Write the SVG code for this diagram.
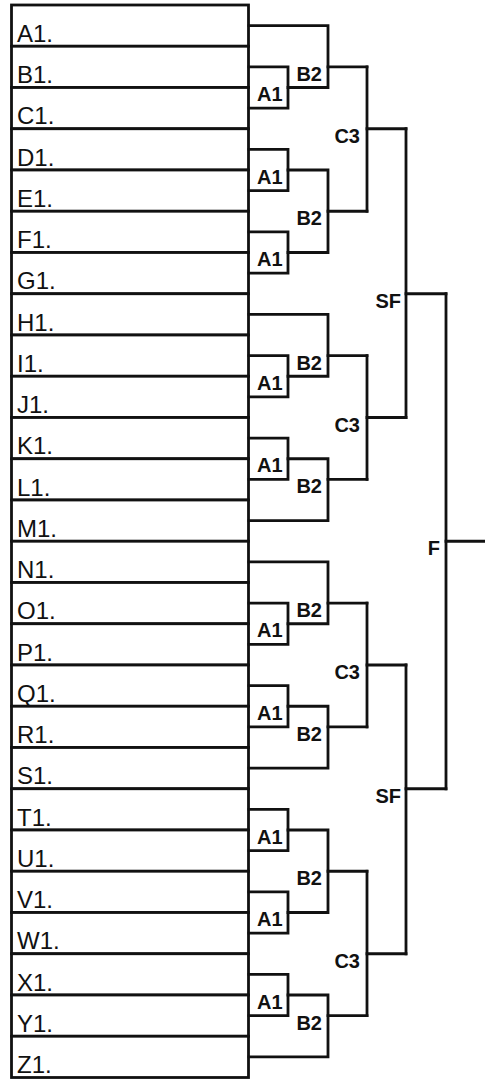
<svg xmlns="http://www.w3.org/2000/svg" width="485" height="1080" viewBox="0 0 485 1080">
<style>
.row{fill:#fff;stroke:#111;stroke-width:2.8}
.rt{font-family:"Liberation Sans",Arial,sans-serif;font-size:24px;fill:#111}
.ml{font-family:"Liberation Sans",Arial,sans-serif;font-size:20px;font-weight:bold;fill:#111}
.e{text-anchor:end}
.c{fill:none;stroke:#111;stroke-width:2.8;stroke-linejoin:miter;stroke-linecap:square}
</style>
<rect width="485" height="1080" fill="#fff"/>
<g id="entries">
<g id="row-A1"><rect class="row" x="11.5" y="5" width="237" height="41.25"/><text class="rt" x="17" y="41.75">A1.</text></g>
<g id="row-B1"><rect class="row" x="11.5" y="46.25" width="237" height="41.25"/><text class="rt" x="17" y="83">B1.</text></g>
<g id="row-C1"><rect class="row" x="11.5" y="87.5" width="237" height="41.25"/><text class="rt" x="17" y="124.25">C1.</text></g>
<g id="row-D1"><rect class="row" x="11.5" y="128.75" width="237" height="41.25"/><text class="rt" x="17" y="165.5">D1.</text></g>
<g id="row-E1"><rect class="row" x="11.5" y="170" width="237" height="41.25"/><text class="rt" x="17" y="206.75">E1.</text></g>
<g id="row-F1"><rect class="row" x="11.5" y="211.25" width="237" height="41.25"/><text class="rt" x="17" y="248">F1.</text></g>
<g id="row-G1"><rect class="row" x="11.5" y="252.5" width="237" height="41.25"/><text class="rt" x="17" y="289.25">G1.</text></g>
<g id="row-H1"><rect class="row" x="11.5" y="293.75" width="237" height="41.25"/><text class="rt" x="17" y="330.5">H1.</text></g>
<g id="row-I1"><rect class="row" x="11.5" y="335" width="237" height="41.25"/><text class="rt" x="17" y="371.75">I1.</text></g>
<g id="row-J1"><rect class="row" x="11.5" y="376.25" width="237" height="41.25"/><text class="rt" x="17" y="413">J1.</text></g>
<g id="row-K1"><rect class="row" x="11.5" y="417.5" width="237" height="41.25"/><text class="rt" x="17" y="454.25">K1.</text></g>
<g id="row-L1"><rect class="row" x="11.5" y="458.75" width="237" height="41.25"/><text class="rt" x="17" y="495.5">L1.</text></g>
<g id="row-M1"><rect class="row" x="11.5" y="500" width="237" height="41.25"/><text class="rt" x="17" y="536.75">M1.</text></g>
<g id="row-N1"><rect class="row" x="11.5" y="541.25" width="237" height="41.25"/><text class="rt" x="17" y="578">N1.</text></g>
<g id="row-O1"><rect class="row" x="11.5" y="582.5" width="237" height="41.25"/><text class="rt" x="17" y="619.25">O1.</text></g>
<g id="row-P1"><rect class="row" x="11.5" y="623.75" width="237" height="41.25"/><text class="rt" x="17" y="660.5">P1.</text></g>
<g id="row-Q1"><rect class="row" x="11.5" y="665" width="237" height="41.25"/><text class="rt" x="17" y="701.75">Q1.</text></g>
<g id="row-R1"><rect class="row" x="11.5" y="706.25" width="237" height="41.25"/><text class="rt" x="17" y="743">R1.</text></g>
<g id="row-S1"><rect class="row" x="11.5" y="747.5" width="237" height="41.25"/><text class="rt" x="17" y="784.25">S1.</text></g>
<g id="row-T1"><rect class="row" x="11.5" y="788.75" width="237" height="41.25"/><text class="rt" x="17" y="825.5">T1.</text></g>
<g id="row-U1"><rect class="row" x="11.5" y="830" width="237" height="41.25"/><text class="rt" x="17" y="866.75">U1.</text></g>
<g id="row-V1"><rect class="row" x="11.5" y="871.25" width="237" height="41.25"/><text class="rt" x="17" y="908">V1.</text></g>
<g id="row-W1"><rect class="row" x="11.5" y="912.5" width="237" height="41.25"/><text class="rt" x="17" y="949.25">W1.</text></g>
<g id="row-X1"><rect class="row" x="11.5" y="953.75" width="237" height="41.25"/><text class="rt" x="17" y="990.5">X1.</text></g>
<g id="row-Y1"><rect class="row" x="11.5" y="995" width="237" height="41.25"/><text class="rt" x="17" y="1031.75">Y1.</text></g>
<g id="row-Z1"><rect class="row" x="11.5" y="1036.25" width="237" height="41.25"/><text class="rt" x="17" y="1073">Z1.</text></g>
</g>
<g id="connectors">
<path class="c" d="M249,66.9 H288 V108.1 H249"/>
<path class="c" d="M249,25.6 H328 V87.5 H288"/>
<path class="c" d="M328,66.9 H367"/>
<path class="c" d="M249,149.4 H288 V190.6 H249"/>
<path class="c" d="M249,231.9 H288 V273.1 H249"/>
<path class="c" d="M288,170 H328 V252.5 H288"/>
<path class="c" d="M328,211.25 H367"/>
<path class="c" d="M367,66.9 V211.25"/>
<path class="c" d="M367,128.75 H406"/>

<path class="c" d="M249,314.4 H328 V376.25 H288"/>
<path class="c" d="M249,355.6 H288 V396.9 H249"/>
<path class="c" d="M328,355.6 H367"/>
<path class="c" d="M249,438.1 H288 V479.4 H249"/>
<path class="c" d="M288,458.75 H328 V520.6 H249"/>
<path class="c" d="M328,479.4 H367"/>
<path class="c" d="M367,355.6 V479.4"/>
<path class="c" d="M367,417.5 H406"/>
<path class="c" d="M406,128.75 V417.5"/>
<path class="c" d="M406,293.75 H446"/>

<path class="c" d="M249,561.9 H328 V623.75 H288"/>
<path class="c" d="M249,603.1 H288 V644.4 H249"/>
<path class="c" d="M328,603.1 H367"/>
<path class="c" d="M249,685.6 H288 V726.9 H249"/>
<path class="c" d="M288,706.25 H328 V768.1 H249"/>
<path class="c" d="M328,726.9 H367"/>
<path class="c" d="M367,603.1 V726.9"/>
<path class="c" d="M367,665 H406"/>

<path class="c" d="M249,809.4 H288 V850.6 H249"/>
<path class="c" d="M249,891.9 H288 V933.1 H249"/>
<path class="c" d="M288,830 H328 V912.5 H288"/>
<path class="c" d="M328,871.25 H367"/>
<path class="c" d="M249,974.4 H288 V1015.6 H249"/>
<path class="c" d="M288,995 H328 V1056.9 H249"/>
<path class="c" d="M328,1015.6 H367"/>
<path class="c" d="M367,871.25 V1015.6"/>
<path class="c" d="M367,953.75 H406"/>
<path class="c" d="M406,665 V953.75"/>
<path class="c" d="M406,788.75 H446"/>
<path class="c" d="M446,293.75 V788.75"/>
<path class="c" d="M446,541.25 H485"/>
</g>
<g id="matches">
<g id="m-a1-1"><text class="ml" x="257" y="101">A1</text></g>
<g id="m-a1-2"><text class="ml" x="257" y="183.5">A1</text></g>
<g id="m-a1-3"><text class="ml" x="257" y="266">A1</text></g>
<g id="m-a1-4"><text class="ml" x="257" y="389.75">A1</text></g>
<g id="m-a1-5"><text class="ml" x="257" y="472.25">A1</text></g>
<g id="m-a1-6"><text class="ml" x="257" y="637.25">A1</text></g>
<g id="m-a1-7"><text class="ml" x="257" y="719.75">A1</text></g>
<g id="m-a1-8"><text class="ml" x="257" y="843.5">A1</text></g>
<g id="m-a1-9"><text class="ml" x="257" y="926">A1</text></g>
<g id="m-a1-10"><text class="ml" x="257" y="1008.5">A1</text></g>
<g id="m-b2-1"><text class="ml e" x="322" y="81">B2</text></g>
<g id="m-b2-2"><text class="ml e" x="322" y="225">B2</text></g>
<g id="m-b2-3"><text class="ml e" x="322" y="369.6">B2</text></g>
<g id="m-b2-4"><text class="ml e" x="322" y="493.4">B2</text></g>
<g id="m-b2-5"><text class="ml e" x="322" y="617">B2</text></g>
<g id="m-b2-6"><text class="ml e" x="322" y="741">B2</text></g>
<g id="m-b2-7"><text class="ml e" x="322" y="885">B2</text></g>
<g id="m-b2-8"><text class="ml e" x="322" y="1029.6">B2</text></g>
<g id="m-c3-1"><text class="ml e" x="360" y="142.75">C3</text></g>
<g id="m-c3-2"><text class="ml e" x="360" y="431.5">C3</text></g>
<g id="m-c3-3"><text class="ml e" x="360" y="679">C3</text></g>
<g id="m-c3-4"><text class="ml e" x="360" y="967.75">C3</text></g>
<g id="m-sf-1"><text class="ml e" x="401" y="307.75">SF</text></g>
<g id="m-sf-2"><text class="ml e" x="401" y="802.75">SF</text></g>
<g id="m-f"><text class="ml e" x="440" y="555.25">F</text></g>
</g>
</svg>
